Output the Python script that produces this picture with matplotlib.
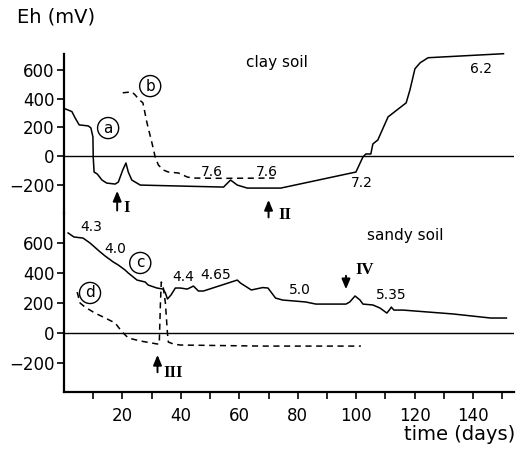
import matplotlib
matplotlib.use("Agg")
import matplotlib.pyplot as plt

# ---- data (days, mV) ----
a_days = [0.3, 2.7, 3.8, 5.2, 8.3, 9.2, 9.9, 10.0, 10.3, 11.4, 13.0, 14.6, 17.5, 18.6, 20.1, 21.2,
          22.0, 23.2, 26.1, 40.0, 54.6, 57.0, 59.3, 62.7, 68.0, 74.2, 99.9, 102.3, 103.3, 105.0,
          105.7, 107.4, 110.9, 117.1, 118.4, 120.1, 121.9, 124.6, 150.4]
a_mv = [330, 310, 266, 217, 210, 196, 133, -7, -112, -126, -168, -189, -196, -182, -98, -49,
        -112, -168, -203, -210, -217, -168, -203, -224, -224, -224, -112, -7, 14, 14,
        84, 112, 273, 371, 462, 609, 651, 686, 714]

b_days = [20.1, 23.2, 24.3, 25.8, 27.0, 28.4, 30.1, 31.2, 32.3, 34.0, 35.7, 39.2, 42.2, 44.3, 55.0, 72.0]
b_mv = [441, 448, 427, 392, 371, 231, 91, -7, -63, -98, -112, -119, -147, -154, -156, -154]

c_days = [1.4, 3.4, 6.5, 8.9, 12.4, 14.1, 16.9, 18.6, 20.9, 22.0, 25.0, 27.8, 28.8, 31.8, 33.9,
          34.7, 35.4, 36.6, 38.1, 39.8, 42.2, 44.3, 46.0, 47.7, 59.3, 60.4, 64.1, 68.0, 69.8,
          72.4, 74.8, 82.7, 86.2, 96.5, 97.8, 99.6, 101.3, 102.3, 105.7, 108.1, 110.5, 111.6,
          112.0, 112.9, 116.0, 133.2, 146.0, 151.4]
c_mv = [667, 640, 633, 600, 540, 513, 473, 453, 420, 400, 353, 340, 320, 300, 293,
        267, 227, 253, 300, 300, 293, 313, 280, 280, 353, 333, 287, 303, 300,
        233, 220, 207, 193, 193, 207, 247, 220, 193, 187, 167, 133, 160,
        173, 153, 153, 127, 100, 100]

d_days = [4.5, 5.5, 7.2, 10.6, 13.4, 17.5, 19.9, 22.0, 26.1, 31.9, 32.6, 33.0, 33.3, 34.0, 34.7,
          35.4, 35.7, 37.4, 39.8, 68.0, 101.6]
d_mv = [273, 200, 173, 133, 107, 67, 7, -33, -53, -73, -73, 200, 340, 300, 200,
        0, -60, -73, -80, -87, -87]

y_ticks = [-200, 0, 200, 400, 600]
x_major = [20, 40, 60, 80, 100, 120, 140]
x_minor = [10, 30, 50, 70, 90, 110, 130, 150]

W, H = 524, 451
fig = plt.figure(figsize=(W / 100, H / 100), dpi=100)
plt.rcParams['font.family'] = ['DejaVu Sans']

left = 64 / W
right = 514 / W
def fy(p):
    return 1 - p / H

ax1 = fig.add_axes([left, fy(213), right - left, fy(54) - fy(213)])
ax2 = fig.add_axes([left, fy(392), right - left, fy(213) - fy(392)], sharex=ax1)
for ax in (ax1, ax2):
    ax.patch.set_visible(False)
ax1.set_zorder(3)

ax1.set_ylim(-398, 712)
ax2.set_ylim(-393, 800)
ax1.set_xlim(0, 154)

lw = 1.1
ax1.plot(a_days, a_mv, color='black', lw=lw, clip_on=False)
ax1.plot(b_days, b_mv, color='black', lw=lw, ls=(0, (4, 3)), clip_on=False)
ax2.plot(c_days, c_mv, color='black', lw=lw, clip_on=False)
ax2.plot(d_days, d_mv, color='black', lw=lw, ls=(0, (4, 3)), clip_on=False)

for ax in (ax1, ax2):
    ax.axhline(0, color='black', lw=1.0, xmin=0, xmax=1.0)
    for s in ('top', 'right'):
        ax.spines[s].set_visible(False)
    ax.spines['left'].set_linewidth(1.6)
    ax.set_yticks(y_ticks)
    ax.set_yticklabels(['\u2212200' if t < 0 else str(t) for t in y_ticks])
    ax.tick_params(axis='y', direction='out', length=5, width=1.2, labelsize=12, pad=2)

ax2.spines['bottom'].set_linewidth(1.6)
ax2.set_xticks(x_major)
ax2.set_xticks(x_minor, minor=True)
ax2.tick_params(axis='x', which='both', direction='out', length=5, width=1.2, labelsize=12, pad=6)
ax1.spines['bottom'].set_visible(False)
ax1.tick_params(axis='x', which='both', bottom=False, labelbottom=False)

fs = 10
# upper panel labels
ax1.text(50.5, -112, '7.6', fontsize=fs, ha='center', va='center')
ax1.text(69.3, -112, '7.6', fontsize=fs, ha='center', va='center')
ax1.text(102, -188, '7.2', fontsize=fs, ha='center', va='center')
ax1.text(142.8, 607, '6.2', fontsize=fs, ha='center', va='center')
ax1.text(72.8, 656, 'clay soil', fontsize=11, ha='center', va='center')
circ = dict(boxstyle='circle,pad=0.2', fc='white', ec='black', lw=1.0)
ax1.text(15.1, 195, 'a', fontsize=11, ha='center', va='center', bbox=circ)
ax1.text(29.5, 488, 'b', fontsize=11, ha='center', va='center', bbox=circ)

arrow = dict(arrowstyle='-|>,head_length=0.6,head_width=0.25', color='black', lw=1.4)
serif = ['Liberation Serif', 'DejaVu Serif']
ax1.annotate('', xy=(18.2, -224), xytext=(18.2, -400), arrowprops=arrow, annotation_clip=False)
ax1.text(21.6, -363, 'I', fontsize=12, family=serif, weight='bold', ha='center', va='center', clip_on=False)
ax1.annotate('', xy=(70, -287), xytext=(70, -448), arrowprops=arrow, annotation_clip=False)
ax1.text(75.5, -412, 'II', fontsize=12, family=serif, weight='bold', ha='center', va='center', clip_on=False)

# lower panel labels
ax2.text(9.3, 707, '4.3', fontsize=fs, ha='center', va='center')
ax2.text(17.5, 560, '4.0', fontsize=fs, ha='center', va='center')
ax2.text(40.9, 373, '4.4', fontsize=fs, ha='center', va='center')
ax2.text(51.8, 387, '4.65', fontsize=fs, ha='center', va='center')
ax2.text(80.7, 287, '5.0', fontsize=fs, ha='center', va='center')
ax2.text(111.9, 253, '5.35', fontsize=fs, ha='center', va='center')
ax2.text(116.7, 653, 'sandy soil', fontsize=11, ha='center', va='center')
ax2.text(26.1, 467, 'c', fontsize=11, ha='center', va='center', bbox=circ)
ax2.text(8.9, 267, 'd', fontsize=11, ha='center', va='center', bbox=circ)

ax2.annotate('', xy=(32, -127), xytext=(32, -280), arrowprops=arrow, annotation_clip=False)
ax2.text(37.4, -267, 'III', fontsize=12, family=serif, weight='bold', ha='center', va='center')
ax2.annotate('', xy=(96.5, 273), xytext=(96.5, 400), arrowprops=arrow, annotation_clip=False)
ax2.text(103, 420, 'IV', fontsize=12, family=serif, weight='bold', ha='center', va='center')

fig.text(17 / W, fy(17), 'Eh (mV)', fontsize=14, ha='left', va='center')
fig.text(515 / W, fy(434), 'time (days)', fontsize=14, ha='right', va='center')

fig.savefig('out.png', dpi=100)
